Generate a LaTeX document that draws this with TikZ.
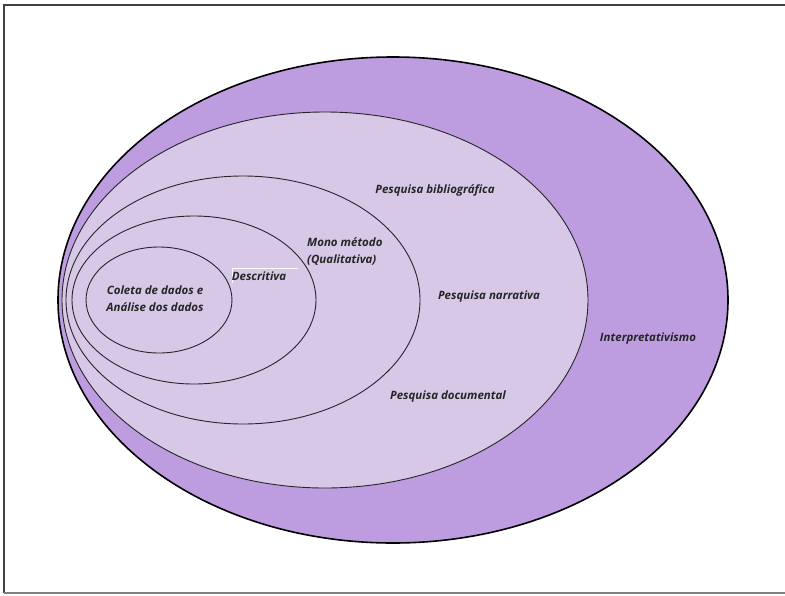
\documentclass[tikz,border=0pt]{standalone}
\usepackage{fontspec}
\setmainfont{Open Sans}
\newfontfamily\lblfont{Open Sans}
\begin{document}
\begin{tikzpicture}[x=1pt,y=-1pt,
  ring/.style={draw=black!85, line width=0.9pt},
  outerring/.style={draw=black, line width=1.6pt, fill=outerfill},
  innerring/.style={ring, fill=innerfill},
  lbl/.style={font=\lblfont\bfseries\itshape\fontsize{11.5}{17}\selectfont, text=black!85, inner sep=0pt, align=left}]
\definecolor{outerfill}{HTML}{BD9DE0}
\definecolor{innerfill}{HTML}{D7C8E8}
\useasboundingbox (0,0) rectangle (785,595);
% page frame
\draw[black!75, line width=1.6pt] (790,5) -- (4,5) -- (4,593);
\draw[black!50, line width=1.4pt] (4,593) -- (790,593);
% nested ellipses, outermost first
\path[outerring] (393,300) ellipse [x radius=335pt, y radius=243pt];
\path[innerring] (325,300) ellipse [x radius=263pt, y radius=188pt];
\path[innerring] (243,300) ellipse [x radius=177pt, y radius=124pt];
\path[innerring] (194,300) ellipse [x radius=122pt, y radius=84pt];
\path[innerring] (159,300) ellipse [x radius=73pt, y radius=53pt];
% small white text-box edge near "Descritiva"
\draw[white, line width=0.6pt] (232,283) -- (232,268) -- (298,268);
% labels
\node[lbl, align=center] (coleta) at (155,299) {Coleta de dados e\\Análise dos dados};
\node[lbl] (descritiva) at (259,276) {Descritiva};
\node[lbl, anchor=west] (mono) at (307,252) {Mono método\\(Qualitativa)};
\node[lbl] (biblio) at (435,190) {Pesquisa bibliográfica};
\node[lbl] (narrativa) at (489,297) {Pesquisa narrativa};
\node[lbl] (documental) at (448,397) {Pesquisa documental};
\node[lbl] (interp) at (648,339) {Interpretativismo};
\end{tikzpicture}
\end{document}
